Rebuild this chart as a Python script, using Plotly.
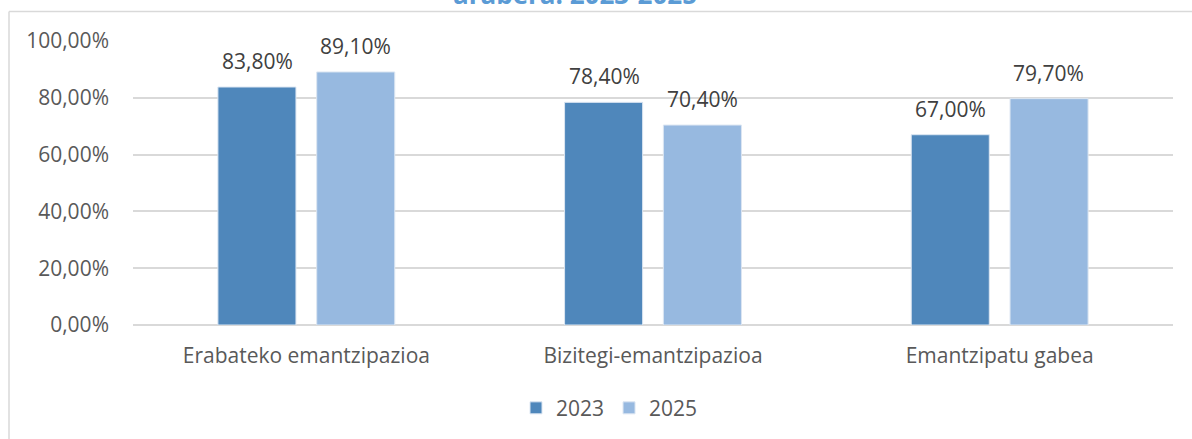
import plotly.graph_objects as go

categories = ["Erabateko emantzipazioa", "Bizitegi-emantzipazioa", "Emantzipatu gabea"]
series_names = ["2023", "2025"]
values_2023 = [0.838, 0.784, 0.670]
values_2025 = [0.891, 0.704, 0.797]
label_2023 = ["83,80%", "78,40%", "67,00%"]
label_2025 = ["89,10%", "70,40%", "79,70%"]
tick_vals = [0, 0.2, 0.4, 0.6, 0.8, 1.0]
tick_text = ["0,00%", "20,00%", "40,00%", "60,00%", "80,00%", "100,00%"]
title_text = "arabera. 2023-2025"

FONT = "Open Sans"
TXT = "#595959"
C1 = "#4F87BB"
C2 = "#97B9E0"

PL, PR, PT, PB = 133, 1173, 40.5, 325.5
W, H = 1192, 439
PW, PH = PR - PL, PB - PT


def px(x):
    return (x - PL) / PW


def py(y):
    return (PB - y) / PH


fig = go.Figure()
for name, vals, col in [(series_names[0], values_2023, C1), (series_names[1], values_2025, C2)]:
    fig.add_trace(go.Bar(
        x=categories, y=vals, name=name,
        marker=dict(color=col, line=dict(color="#DCE6F2", width=1)),
    ))

annots = []
for labels, vals, shift in [(label_2023, values_2023, -49), (label_2025, values_2025, 49)]:
    for c, v, t in zip(categories, vals, labels):
        annots.append(dict(x=c, y=v, xref="x", yref="y", text=t, showarrow=False,
                           xshift=shift, yshift=10, yanchor="bottom",
                           font=dict(family=FONT, size=21, color="#404040")))

annots.append(dict(x=px(575), y=py(13), xref="paper", yref="paper",
                   text="<b>" + title_text + "</b>", showarrow=False, xanchor="center",
                   yanchor="bottom", font=dict(family=FONT, size=26, color="#5B9BD5")))

fig.update_layout(
    width=W, height=H,
    margin=dict(l=PL, r=W - PR, t=PT, b=H - PB, autoexpand=False),
    paper_bgcolor="white", plot_bgcolor="white",
    barmode="group", bargap=0.43, bargroupgap=0.21,
    font=dict(family=FONT, size=21, color=TXT),
    showlegend=True,
    legend=dict(orientation="h", x=px(609.5), xanchor="center",
                y=py(409), yanchor="middle",
                font=dict(family=FONT, size=21, color=TXT), itemwidth=30),
    annotations=annots,
    shapes=[
        dict(type="line", xref="paper", yref="paper",
             x0=px(9), x1=px(1300), y0=py(11), y1=py(11),
             line=dict(color="#D9D9D9", width=1.5)),
        dict(type="line", xref="paper", yref="paper",
             x0=px(9), x1=px(9), y0=py(11), y1=py(520),
             line=dict(color="#D9D9D9", width=1.5)),
    ],
)
fig.update_xaxes(showgrid=False, showline=False, ticks="", ticklabelstandoff=16,
                 tickfont=dict(family=FONT, size=21, color=TXT))
fig.update_yaxes(range=[0, 1], tickvals=tick_vals, ticktext=tick_text,
                 showgrid=True, gridcolor="#D9D9D9", gridwidth=1.5,
                 zeroline=True, zerolinecolor="#D9D9D9", zerolinewidth=1.5,
                 showline=False, ticks="", ticklabelstandoff=23,
                 tickfont=dict(family=FONT, size=21, color=TXT))

fig.write_html("out.html", config={"displayModeBar": False},
               post_script="document.body.style.margin='0';document.body.style.overflow='hidden';")
